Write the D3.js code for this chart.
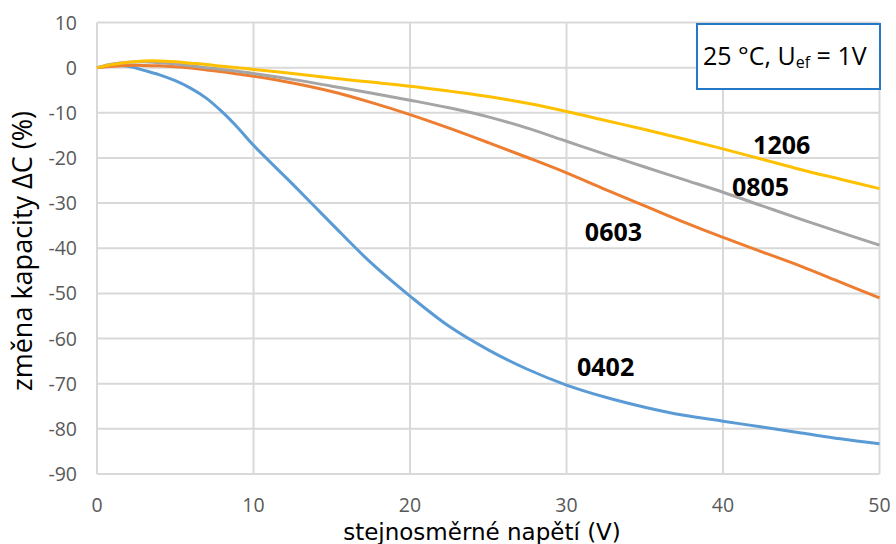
<!DOCTYPE html>
<html><head><meta charset="utf-8">
<script src="https://cdn.jsdelivr.net/npm/d3@7"></script>
<style>body{margin:0;background:#fff}svg{display:block}</style>
</head><body>
<svg id="c" width="896" height="544"></svg>
<script>
const xValues = [0,1,2,3,4,5,6,7,8,9,10,12.5,15,17.5,20,22.5,25,27.5,30,32.5,35,37.5,40,42.5,45,47.5,50];
const s0402 = [0,0.5,0.3,-0.6,-1.6,-2.9,-4.6,-6.8,-9.8,-13.3,-17.2,-25.8,-34.6,-43.2,-50.6,-57.3,-62.5,-66.8,-70.3,-73,-75.2,-77,-78.3,-79.6,-80.9,-82.2,-83.3];
const s0603 = [0,0.3,0.5,0.5,0.4,0.2,-0.1,-0.5,-0.9,-1.4,-1.9,-3.4,-5.3,-7.7,-10.4,-13.4,-16.6,-19.9,-23.3,-27,-30.6,-34.2,-37.6,-40.8,-44,-47.5,-51];
const s0805 = [0,0.8,1.2,1.3,1.1,0.8,0.4,0,-0.4,-0.8,-1.3,-2.6,-4.1,-5.6,-7.2,-8.9,-10.9,-13.4,-16.3,-19.2,-22,-24.8,-27.6,-30.6,-33.6,-36.5,-39.3];
const s1206 = [0,0.7,1.2,1.5,1.5,1.3,1.0,0.7,0.3,0,-0.4,-1.3,-2.3,-3.2,-4.1,-5.2,-6.4,-7.9,-9.7,-11.7,-13.7,-15.8,-18,-20.3,-22.6,-24.7,-26.8];
const seriesNames = ["0402","0603","0805","1206"];
const seriesValues = [s0402,s0603,s0805,s1206];
const seriesColors = ["#5b9bd5","#ed7d31","#a5a5a5","#ffc000"];
const xTicks = [0,10,20,30,40,50];
const yTicks = [10,0,-10,-20,-30,-40,-50,-60,-70,-80,-90];
const xTitle = "stejnosměrné napětí (V)";
const yTitle = "změna kapacity ΔC (%)";
// series label anchor points (data coords)
const labelX = [32.5,33.0,42.4,43.75];
const labelY = [-66.2,-36.3,-26.4,-17.2];

const svg = d3.select("#c");
const x = d3.scaleLinear().domain([0,50]).range([97,879.5]);
const y = d3.scaleLinear().domain([10,-90]).range([22.5,474]);

const grid = svg.append("g");
grid.selectAll("line.v").data(xTicks).join("line")
  .attr("x1",d=>x(d)).attr("x2",d=>x(d)).attr("y1",y(10)).attr("y2",y(-90))
  .attr("stroke","#d9d9d9").attr("stroke-width",2);
grid.selectAll("line.h").data(yTicks).join("line")
  .attr("y1",d=>y(d)).attr("y2",d=>y(d)).attr("x1",x(0)).attr("x2",x(50))
  .attr("stroke","#d9d9d9").attr("stroke-width",2);

const font = "'Open Sans', sans-serif";
svg.append("g").selectAll("text").data(yTicks).join("text")
  .attr("x",77).attr("y",d=>y(d)).attr("dy","0.36em").attr("text-anchor","end")
  .attr("font-family",font).attr("font-size",19.5).attr("fill","#595959").text(d=>d);
svg.append("g").selectAll("text").data(xTicks).join("text")
  .attr("x",d=>x(d)).attr("y",505).attr("dy","0.36em").attr("text-anchor","middle")
  .attr("font-family",font).attr("font-size",19.5).attr("fill","#595959").text(d=>d);

svg.append("text").attr("x",482).attr("y",540).attr("text-anchor","middle")
  .attr("font-family","'DejaVu Sans', sans-serif").attr("font-size",23).attr("fill","#000").text(xTitle);
svg.append("text").attr("transform","translate(32,251) rotate(-90)").attr("text-anchor","middle")
  .attr("font-family",font).attr("font-size",27).attr("fill","#000").text(yTitle);

const line = d3.line().x((d,i)=>x(xValues[i])).y(d=>y(d)).curve(d3.curveCatmullRom.alpha(0.5));
seriesValues.forEach((vals,k)=>{
  svg.append("path").attr("d",line(vals)).attr("fill","none")
    .attr("stroke",seriesColors[k]).attr("stroke-width",3).attr("stroke-linejoin","round");
});

svg.append("g").selectAll("text").data(seriesNames).join("text")
  .attr("x",(d,i)=>x(labelX[i])).attr("y",(d,i)=>y(labelY[i])).attr("dy","0.36em")
  .attr("text-anchor","middle").attr("font-family",font).attr("font-weight","bold")
  .attr("font-size",25).attr("fill","#000").text(d=>d);

// annotation box
const box = svg.append("g");
box.append("rect").attr("x",697).attr("y",24).attr("width",183).attr("height",65)
  .attr("fill","#fff").attr("stroke","#2478c8").attr("stroke-width",2);
const t = box.append("text").attr("x",703).attr("y",65).attr("font-family",font)
  .attr("font-size",25).attr("fill","#000");
t.append("tspan").text("25 °C, U");
t.append("tspan").attr("font-size",16).attr("dy",3).text("ef");
t.append("tspan").attr("dy",-3).text(" = 1V");
</script>
</body></html>
